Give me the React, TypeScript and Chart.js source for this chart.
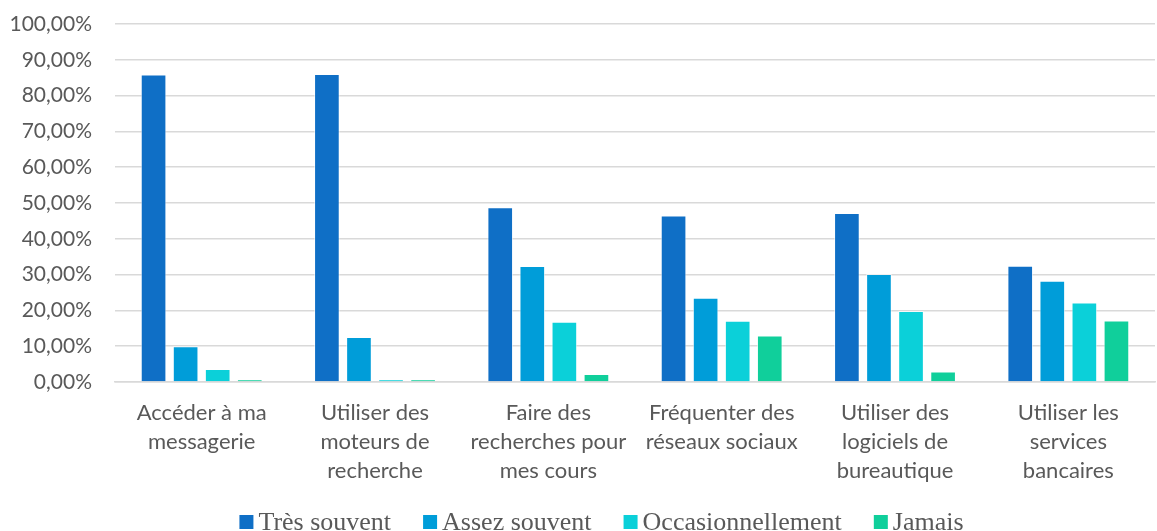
import React, { useEffect, useRef } from "react";
import { Chart, registerables } from "chart.js";

Chart.register(...registerables);

const categories: string[][] = [
  ["Accéder à ma", "messagerie"],
  ["Utiliser des", "moteurs de", "recherche"],
  ["Faire des", "recherches pour", "mes cours"],
  ["Fréquenter des", "réseaux sociaux"],
  ["Utiliser des", "logiciels de", "bureautique"],
  ["Utiliser les", "services", "bancaires"],
];

const seriesNames = ["Très souvent", "Assez souvent", "Occasionnellement", "Jamais"];
const tresSouvent = [85.9, 86.0, 48.8, 46.5, 47.2, 32.5];
const assezSouvent = [10.0, 12.6, 32.4, 23.5, 30.2, 28.3];
const occasionnellement = [3.6, 0.75, 16.8, 17.1, 19.8, 22.2];
const jamais = [0.7, 0.75, 2.2, 13.0, 2.9, 17.2];
const seriesColors = ["#0F6FC6", "#009DD9", "#0BD0D9", "#10CF9B"];

const yMin = 0;
const yMax = 100;
const yStep = 10;

const legendPlugin = {
  id: "customLegend",
  afterDraw(chart: any) {
    const ctx = chart.ctx;
    ctx.save();
    ctx.font = '26px "Liberation Serif"';
    const box = 14;
    const gap = 5;
    const spacing = 32;
    const items = chart.data.datasets.map((d: any) => ({
      label: d.label,
      color: d.backgroundColor,
      w: ctx.measureText(d.label).width,
    }));
    const total =
      items.reduce((s: number, it: any) => s + box + gap + it.w, 0) +
      spacing * (items.length - 1);
    let x = chart.width / 2 + 23 - total / 2;
    const baseline = 530;
    items.forEach((it: any) => {
      ctx.fillStyle = it.color;
      ctx.fillRect(x, baseline - 15, box, box);
      x += box + gap;
      ctx.fillStyle = "#595959";
      ctx.textBaseline = "alphabetic";
      ctx.textAlign = "left";
      ctx.fillText(it.label, x, baseline);
      x += it.w + spacing;
    });
    ctx.restore();
  },
};

export default function App() {
  const ref = useRef<HTMLCanvasElement>(null);
  useEffect(() => {
    if (!ref.current) return;
    const values = [tresSouvent, assezSouvent, occasionnellement, jamais];
    const chart = new Chart(ref.current, {
      type: "bar",
      data: {
        labels: categories,
        datasets: seriesNames.map((name, i) => ({
          label: name,
          data: values[i],
          backgroundColor: seriesColors[i],
          borderColor: "rgba(255,255,255,0.6)",
          borderWidth: 1,
          categoryPercentage: 0.74,
          barPercentage: 0.8,
        })),
      },
      options: {
        responsive: false,
        animation: false,
        layout: { padding: { top: 0, right: 2, left: 0, bottom: 30 } },
        plugins: {
          legend: { display: false },
          tooltip: { enabled: false },
        },
        scales: {
          x: {
            grid: { display: false, drawTicks: false },
            border: { display: true, color: "#D9D9D9", width: 1.5 },
            ticks: {
              color: "#595959",
              font: { family: "Lato", size: 22, lineHeight: "29px" as any },
              padding: 16,
              maxRotation: 0,
              autoSkip: false,
            },
          },
          y: {
            min: yMin,
            max: yMax,
            grid: { color: "#D9D9D9", lineWidth: 1.5, drawTicks: false },
            border: { display: false },
            afterFit: (axis: any) => {
              axis.width = 115;
              axis.paddingTop = 24;
              axis.paddingBottom = 13;
            },
            ticks: {
              stepSize: yStep,
              color: "#595959",
              font: { family: "Lato", size: 21 },
              padding: 23,
              callback: (v: any) => Number(v).toFixed(2).replace(".", ",") + "%",
            },
          },
        },
      },
      plugins: [legendPlugin],
    });
    return () => chart.destroy();
  }, []);
  return (
    <div style={{ position: "absolute", left: 0, top: 0, width: 1157, height: 531, background: "#fff" }}>
      <canvas ref={ref} width={1157} height={531} style={{ display: "block" }} />
    </div>
  );
}
